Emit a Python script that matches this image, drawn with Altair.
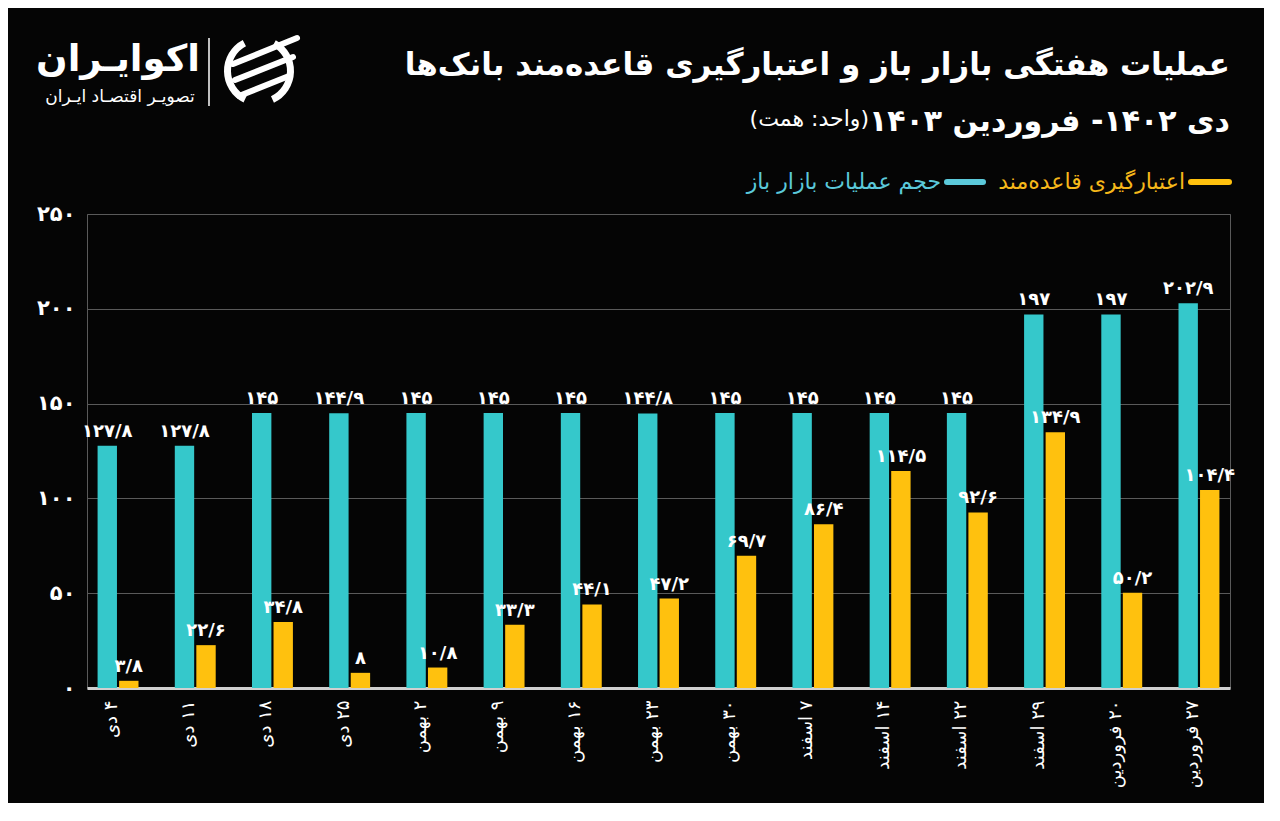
import altair as alt
import pandas as pd

# ---------------- data ----------------
categories = ["۴ دی", "۱۱ دی", "۱۸ دی", "۲۵ دی", "۲ بهمن", "۹ بهمن", "۱۶ بهمن", "۲۳ بهمن",
              "۳۰ بهمن", "۷ اسفند", "۱۴ اسفند", "۲۲ اسفند", "۲۹ اسفند", "۲۰ فروردین", "۲۷ فروردین"]
open_market = [127.8, 127.8, 145, 144.9, 145, 145, 145, 144.8, 145, 145, 145, 145, 197, 197, 202.9]
standing_credit = [3.8, 22.6, 34.8, 8, 10.8, 33.3, 44.1, 47.2, 69.7, 86.4, 114.5, 92.6, 134.9, 50.2, 104.4]
series_names = ["حجم عملیات بازار باز", "اعتبارگیری قاعده‌مند"]
y_ticks = [0, 50, 100, 150, 200, 250]
y_tick_labels = ["۰", "۵۰", "۱۰۰", "۱۵۰", "۲۰۰", "۲۵۰"]

title1 = "عملیات هفتگی بازار باز و اعتبارگیری قاعده‌مند بانک‌ها"
title2 = "دی ۱۴۰۲- فروردین ۱۴۰۳"
unit_text = "\u200f(واحد: همت)\u200f"
brand = "اکوایـران"
brand_sub = "تصویـر اقتصـاد ایـران"

TEAL = "#35C8CB"
YELLOW = "#FFC10E"
FONT = "DejaVu Sans"
RLM = "\u200f"

fa_digits = str.maketrans("0123456789.", "۰۱۲۳۴۵۶۷۸۹/")


def fa(v):
    s = ("%g" % v)
    return s.translate(fa_digits)


cat_disp = [RLM + c for c in categories]
rows = []
for c, a, b in zip(cat_disp, open_market, standing_credit):
    rows.append({"cat": c, "series": series_names[0], "value": a, "label": fa(a)})
    rows.append({"cat": c, "series": series_names[1], "value": b, "label": fa(b)})
df = pd.DataFrame(rows)

label_expr = "[" + ",".join("'%s'" % t for t in y_tick_labels) + "][round(datum.value/50)]"

x_enc = alt.X("cat:N", sort=cat_disp,
              scale=alt.Scale(paddingInner=0.47, paddingOuter=0.137),
              axis=alt.Axis(title=None, labelAngle=270, labelFontSize=18, labelColor="#ffffff",
                            labelFont=FONT, labelPadding=12, labelOffset=-6, ticks=False,
                            domainColor="#d0d0d0", domainWidth=3))
xo_enc = alt.XOffset("series:N", sort=series_names, scale=alt.Scale(paddingInner=0.1))
y_enc = alt.Y("value:Q", scale=alt.Scale(domain=[0, 250], nice=False),
              axis=alt.Axis(title=None, values=y_ticks, labelExpr=label_expr, labelFontSize=21,
                            labelFont=FONT, labelFontWeight="bold", labelColor="#ffffff",
                            labelPadding=12, ticks=False, domain=False,
                            gridColor="#5a5a5a", gridWidth=1))
color_enc = alt.Color("series:N", sort=series_names,
                      scale=alt.Scale(domain=series_names, range=[TEAL, YELLOW]), legend=None)

base = alt.Chart(df)
bars = base.mark_bar().encode(x=x_enc, xOffset=xo_enc, y=y_enc, color=color_enc)
labels = base.mark_text(baseline="bottom", dy=-5, fontSize=18, fontWeight="bold",
                        font=FONT, color="#ffffff").encode(
    x=alt.X("cat:N", sort=cat_disp), xOffset=alt.XOffset("series:N", sort=series_names),
    y="value:Q", text="label:N")

one = alt.Data(values=[{"k": 1}])


def txt(text, x, y, size, color="#ffffff", weight="bold", align="right", **kw):
    return alt.Chart(one).mark_text(text=text, fontSize=size, font=FONT, fontWeight=weight,
                                    color=color, align=align, baseline="middle", **kw).encode(
        x=alt.value(x), y=alt.value(y))


def rule(x, x2, y, y2, color, width, cap="butt"):
    return alt.Chart(one).mark_rule(color=color, strokeWidth=width, strokeCap=cap).encode(
        x=alt.value(x), x2=alt.value(x2), y=alt.value(y), y2=alt.value(y2))


t1 = txt(title1, 1143, -148, 31)
t2 = txt(title2, 1143, -92, 30)
t3 = txt(unit_text, 782, -95, 22, weight="normal")
leg_y = rule(1104, 1142, -32, -32, YELLOW, 6, "round")
leg_yt = txt(series_names[1], 1098, -32, 22, color="#F6B81A", weight="normal")
leg_t = rule(860, 896, -32, -32, "#5BC9DA", 6, "round")
leg_tt = txt(series_names[0], 854, -32, 22, color="#5BC9DA", weight="normal")

logo1 = txt(brand, 31, -154, 37, align="center")
logo2 = txt(brand_sub, 33, -117, 17, weight="normal", align="center")
sep = rule(122, 122, -176, -108, "#ffffff", 1.5)
ring = alt.Chart(one).mark_arc(color="#ffffff").encode(
    x=alt.value(172), y=alt.value(-143), radius=alt.value(35), radius2=alt.value(28),
    theta=alt.value(0.5), theta2=alt.value(2.7))
ring2 = alt.Chart(one).mark_arc(color="#ffffff").encode(
    x=alt.value(172), y=alt.value(-143), radius=alt.value(35), radius2=alt.value(28),
    theta=alt.value(3.6), theta2=alt.value(5.8))
s1 = rule(146, 210, -150, -176, "#ffffff", 6, "round")
s2 = rule(148, 206, -134, -157, "#ffffff", 6, "round")
s3 = rule(152, 202, -118, -138, "#ffffff", 6, "round")

chart = alt.layer(bars, labels, t1, t2, t3, leg_y, leg_yt, leg_t, leg_tt,
                  logo1, logo2, sep, ring, ring2, s1, s2, s3).properties(
    width=1143, height=474,
    autosize=alt.AutoSizeParams(type="none"),
    padding={"left": 79, "top": 206, "right": 34, "bottom": 115},
    background="#050505",
).configure_view(stroke="#5a5a5a", strokeWidth=1)

chart.save("out.html", embed_options={"renderer": "svg", "actions": False})
